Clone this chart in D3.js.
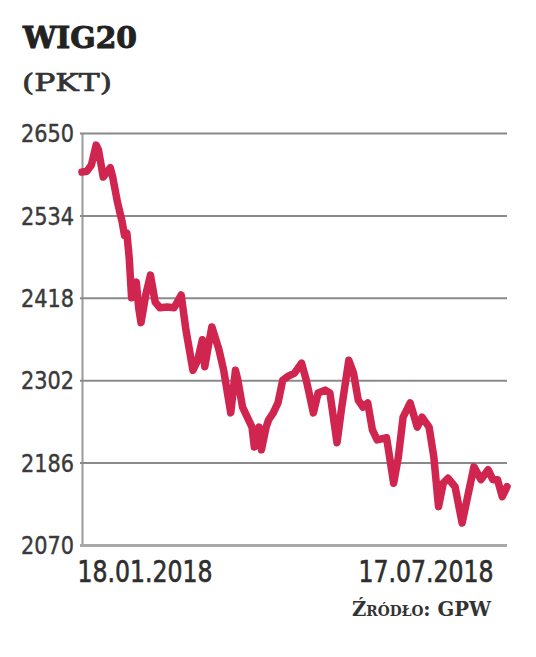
<!DOCTYPE html>
<html><head><meta charset="utf-8">
<script src="https://cdn.jsdelivr.net/npm/d3@7"></script>
<style>
html,body{margin:0;padding:0;background:#fff;}
svg{display:block;}
</style></head>
<body>
<svg id="c" width="536" height="657"></svg>
<script>
const title = "WIG20";
const unit = "(PKT)";
const source = "Źródło: GPW";
const yTicks = [2070, 2186, 2302, 2418, 2534, 2650];
const xTickLabels = ["18.01.2018", "17.07.2018"];
const dates = [
"2018-01-18","2018-01-20","2018-01-22","2018-01-24","2018-01-25","2018-01-27","2018-01-30","2018-01-31",
"2018-02-02","2018-02-04","2018-02-05","2018-02-06","2018-02-07","2018-02-08","2018-02-10","2018-02-11",
"2018-02-12","2018-02-14","2018-02-16","2018-02-18","2018-02-20","2018-02-23","2018-02-26","2018-03-01",
"2018-03-03","2018-03-06","2018-03-08","2018-03-10","2018-03-11","2018-03-13","2018-03-14","2018-03-17",
"2018-03-19","2018-03-22","2018-03-24","2018-03-25","2018-03-27","2018-03-29","2018-03-31","2018-04-01",
"2018-04-03","2018-04-04","2018-04-06","2018-04-07","2018-04-09","2018-04-11","2018-04-13","2018-04-15",
"2018-04-18","2018-04-21","2018-04-23","2018-04-26","2018-04-28","2018-05-01","2018-05-03","2018-05-06",
"2018-05-08","2018-05-11","2018-05-13","2018-05-15","2018-05-17","2018-05-19","2018-05-21","2018-05-23",
"2018-05-27","2018-05-30","2018-06-01","2018-06-03","2018-06-06","2018-06-09","2018-06-11","2018-06-14",
"2018-06-16","2018-06-18","2018-06-20","2018-06-22","2018-06-25","2018-06-28","2018-06-30","2018-07-03",
"2018-07-06","2018-07-09","2018-07-11","2018-07-13","2018-07-15","2018-07-17"];
const values = [
2595,2596,2605,2633,2626,2588,2601,2588,
2553,2525,2506,2509,2474,2418,2440,2404,
2383,2422,2450,2412,2404,2405,2404,2422,
2373,2316,2330,2359,2321,2359,2377,2345,
2316,2256,2316,2302,2264,2250,2236,2208,
2236,2204,2236,2246,2256,2270,2302,2307,
2312,2326,2302,2256,2284,2288,2284,2214,
2264,2330,2312,2274,2264,2270,2232,2218,
2221,2157,2194,2250,2270,2236,2250,2236,
2194,2124,2157,2164,2152,2101,2133,2180,
2162,2176,2162,2162,2138,2152];

const parse = d3.timeParse("%Y-%m-%d");
const data = dates.map((d,i)=>({date: parse(d), value: values[i]}));

const svg = d3.select("#c");
const mLeft = 82, mRight = 507, mTop = 133, mBottom = 545;
const x = d3.scaleTime().domain([parse("2018-01-18"), parse("2018-07-17")]).range([mLeft, mRight]);
const y = d3.scaleLinear().domain([2070, 2650]).range([mBottom, mTop]);

// Title
svg.append("text").attr("x", 23).attr("y", 48)
  .attr("font-family", "DejaVu Serif").attr("font-weight", "bold").attr("font-size", 30)
  .attr("textLength", 114).attr("lengthAdjust", "spacingAndGlyphs")
  .attr("fill", "#222").attr("stroke", "#222").attr("stroke-width", 1).text(title);
svg.append("text").attr("x", 22).attr("y", 91)
  .attr("font-family", "DejaVu Serif").attr("font-size", 24)
  .attr("textLength", 90).attr("lengthAdjust", "spacingAndGlyphs")
  .attr("fill", "#333").attr("stroke", "#333").attr("stroke-width", 0.7).text(unit);

// Y axis with gridlines
const yAxis = d3.axisLeft(y).tickValues(yTicks).tickFormat(d3.format("d"))
  .tickSizeInner(-(mRight - mLeft)).tickSizeOuter(0).tickPadding(8);
const gy = svg.append("g").attr("transform", `translate(${mLeft},0)`).call(yAxis);
gy.select(".domain").attr("stroke", "#9a9a9a").attr("stroke-width", 2);
gy.selectAll(".tick line").attr("stroke", "#8a8a8a").attr("stroke-width", 2).attr("x1", -2);
gy.selectAll(".tick").filter(d => d === 2070).select("line").attr("stroke", "#a8a8a8").attr("stroke-width", 3);
gy.selectAll(".tick text")
  .attr("font-family", "DejaVu Sans Condensed").attr("font-size", 24)
  .attr("fill", "#3a3a3a").attr("stroke", "#3a3a3a").attr("stroke-width", 0.4).attr("dy", "0.36em")
  .attr("textLength", 53).attr("lengthAdjust", "spacingAndGlyphs");

// X labels
const xAxis = d3.axisBottom(x).tickValues([parse("2018-01-18"), parse("2018-07-17")])
  .tickFormat((d,i)=>xTickLabels[i]).tickSize(0).tickPadding(0);
const gx = svg.append("g").attr("transform", `translate(0,${mBottom})`).call(xAxis);
gx.select(".domain").remove();
gx.selectAll(".tick text")
  .attr("font-family", "DejaVu Sans Condensed").attr("font-size", 30)
  .attr("fill", "#2e2e2e").attr("stroke", "#2e2e2e").attr("stroke-width", 0.6)
  .attr("y", 37).attr("dy", 0)
  .attr("text-anchor", (d,i)=> i === 0 ? "start" : "end")
  .attr("dx", (d,i)=> i === 0 ? -5 : -14)
  .attr("textLength", 135).attr("lengthAdjust", "spacingAndGlyphs");

// Line
const line = d3.line().x(d=>x(d.date)).y(d=>y(d.value));
svg.append("path").datum(data).attr("d", line)
  .attr("fill", "none").attr("stroke", "#d0254f").attr("stroke-width", 7.5)
  .attr("stroke-linejoin", "round").attr("stroke-linecap", "round");

// Source
svg.append("text").attr("x", 491).attr("y", 616).attr("text-anchor", "end")
  .attr("font-family", "DejaVu Serif").attr("font-weight", "bold").attr("font-size", 20)
  .style("font-variant", "small-caps")
  .attr("textLength", 139).attr("lengthAdjust", "spacingAndGlyphs")
  .attr("fill", "#333").text(source);
</script>
</body></html>
